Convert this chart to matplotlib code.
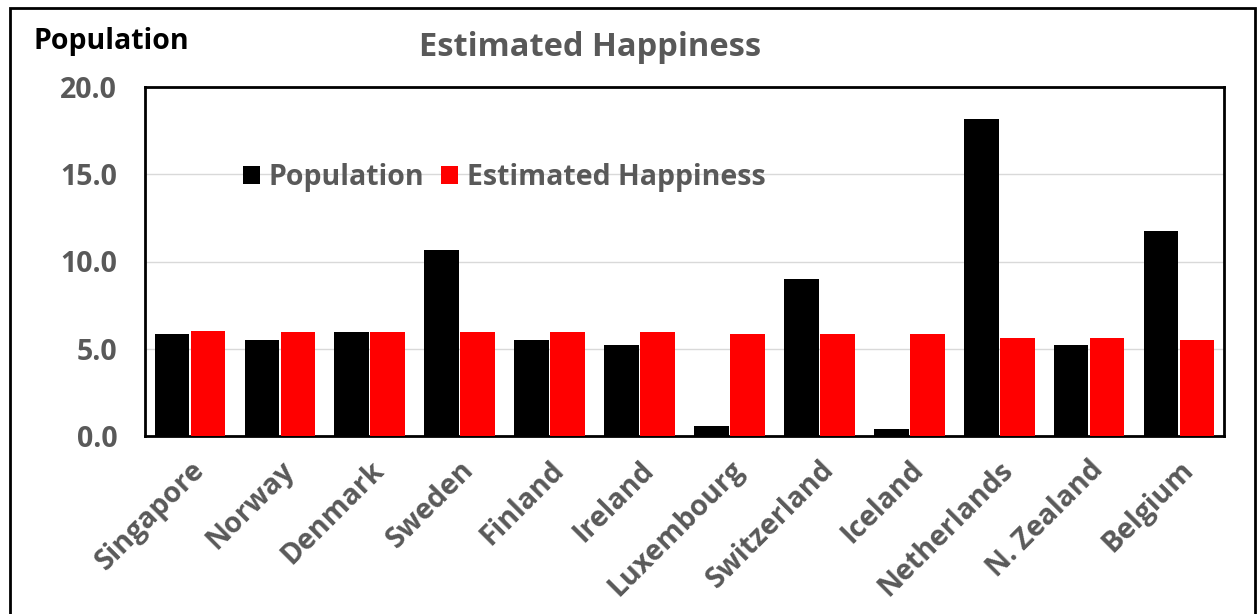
import numpy as np
import matplotlib.pyplot as plt
from matplotlib.patches import Rectangle

countries = ["Singapore", "Norway", "Denmark", "Sweden", "Finland", "Ireland",
             "Luxembourg", "Switzerland", "Iceland", "Netherlands", "N. Zealand", "Belgium"]
population = [5.83, 5.52, 5.94, 10.67, 5.52, 5.21, 0.57, 8.97, 0.38, 18.19, 5.19, 11.72]
happiness = [6.04, 5.95, 5.95, 5.95, 5.95, 5.95, 5.83, 5.83, 5.83, 5.61, 5.61, 5.52]
yticks = [0.0, 5.0, 10.0, 15.0, 20.0]

GREY = "#595959"
FS = 20.5
plt.rcParams['font.family'] = ['Open Sans', 'DejaVu Sans']
plt.rcParams['font.weight'] = 'bold'

W, H = 1258, 614
fig = plt.figure(figsize=(W / 100, H / 100), dpi=100)
ax = fig.add_axes([145 / W, 1 - 436 / H, (1224 - 145) / W, (436 - 87) / H])

x = np.arange(len(countries))
bw = 0.385
ax.bar(x - 0.2, population, bw, color="black", label="Population", zorder=3)
ax.bar(x + 0.2, happiness, bw, color="#ff0000", label="Estimated Happiness", zorder=3)

ax.set_xlim(-0.5, len(countries) - 0.5)
ax.set_ylim(0, 20)
ax.set_yticks(yticks)
ax.set_yticklabels([f"{v:.1f}" for v in yticks], fontsize=FS, color=GREY, fontweight='bold')
ax.set_xticks(x)
ax.set_xticklabels(countries, rotation=45, ha='right', rotation_mode='anchor',
                   fontsize=FS, color=GREY, fontweight='bold')
ax.tick_params(axis='y', length=0, pad=20)
ax.tick_params(axis='x', length=0, pad=14)
ax.grid(axis='y', color="#d9d9d9", linewidth=1, zorder=0)
for s in ax.spines.values():
    s.set_linewidth(2)
    s.set_color("black")

ax.legend(loc='center left', bbox_to_anchor=(0.08, 0.74), ncol=2, frameon=False,
          labelcolor=GREY, handlelength=0.6, handleheight=0.6,
          handletextpad=0.3, columnspacing=0.6, borderaxespad=0,
          prop={'weight': 'bold', 'size': FS})

fig.text(33 / W, 1 - 42 / H, "Population", fontsize=FS, fontweight='bold',
         color="black", va='center', ha='left')
fig.text(590 / W, 1 - 47 / H, "Estimated Happiness", fontsize=FS + 3, fontweight='bold',
         color=GREY, va='center', ha='center')

# outer frame around the chart
fig.patches.append(Rectangle((10 / W, -0.01), (1255 - 10) / W, 1 - 8 / H + 0.01,
                             transform=fig.transFigure, fill=False,
                             edgecolor="black", linewidth=2))

fig.savefig("out.png", dpi=100, facecolor="white")
